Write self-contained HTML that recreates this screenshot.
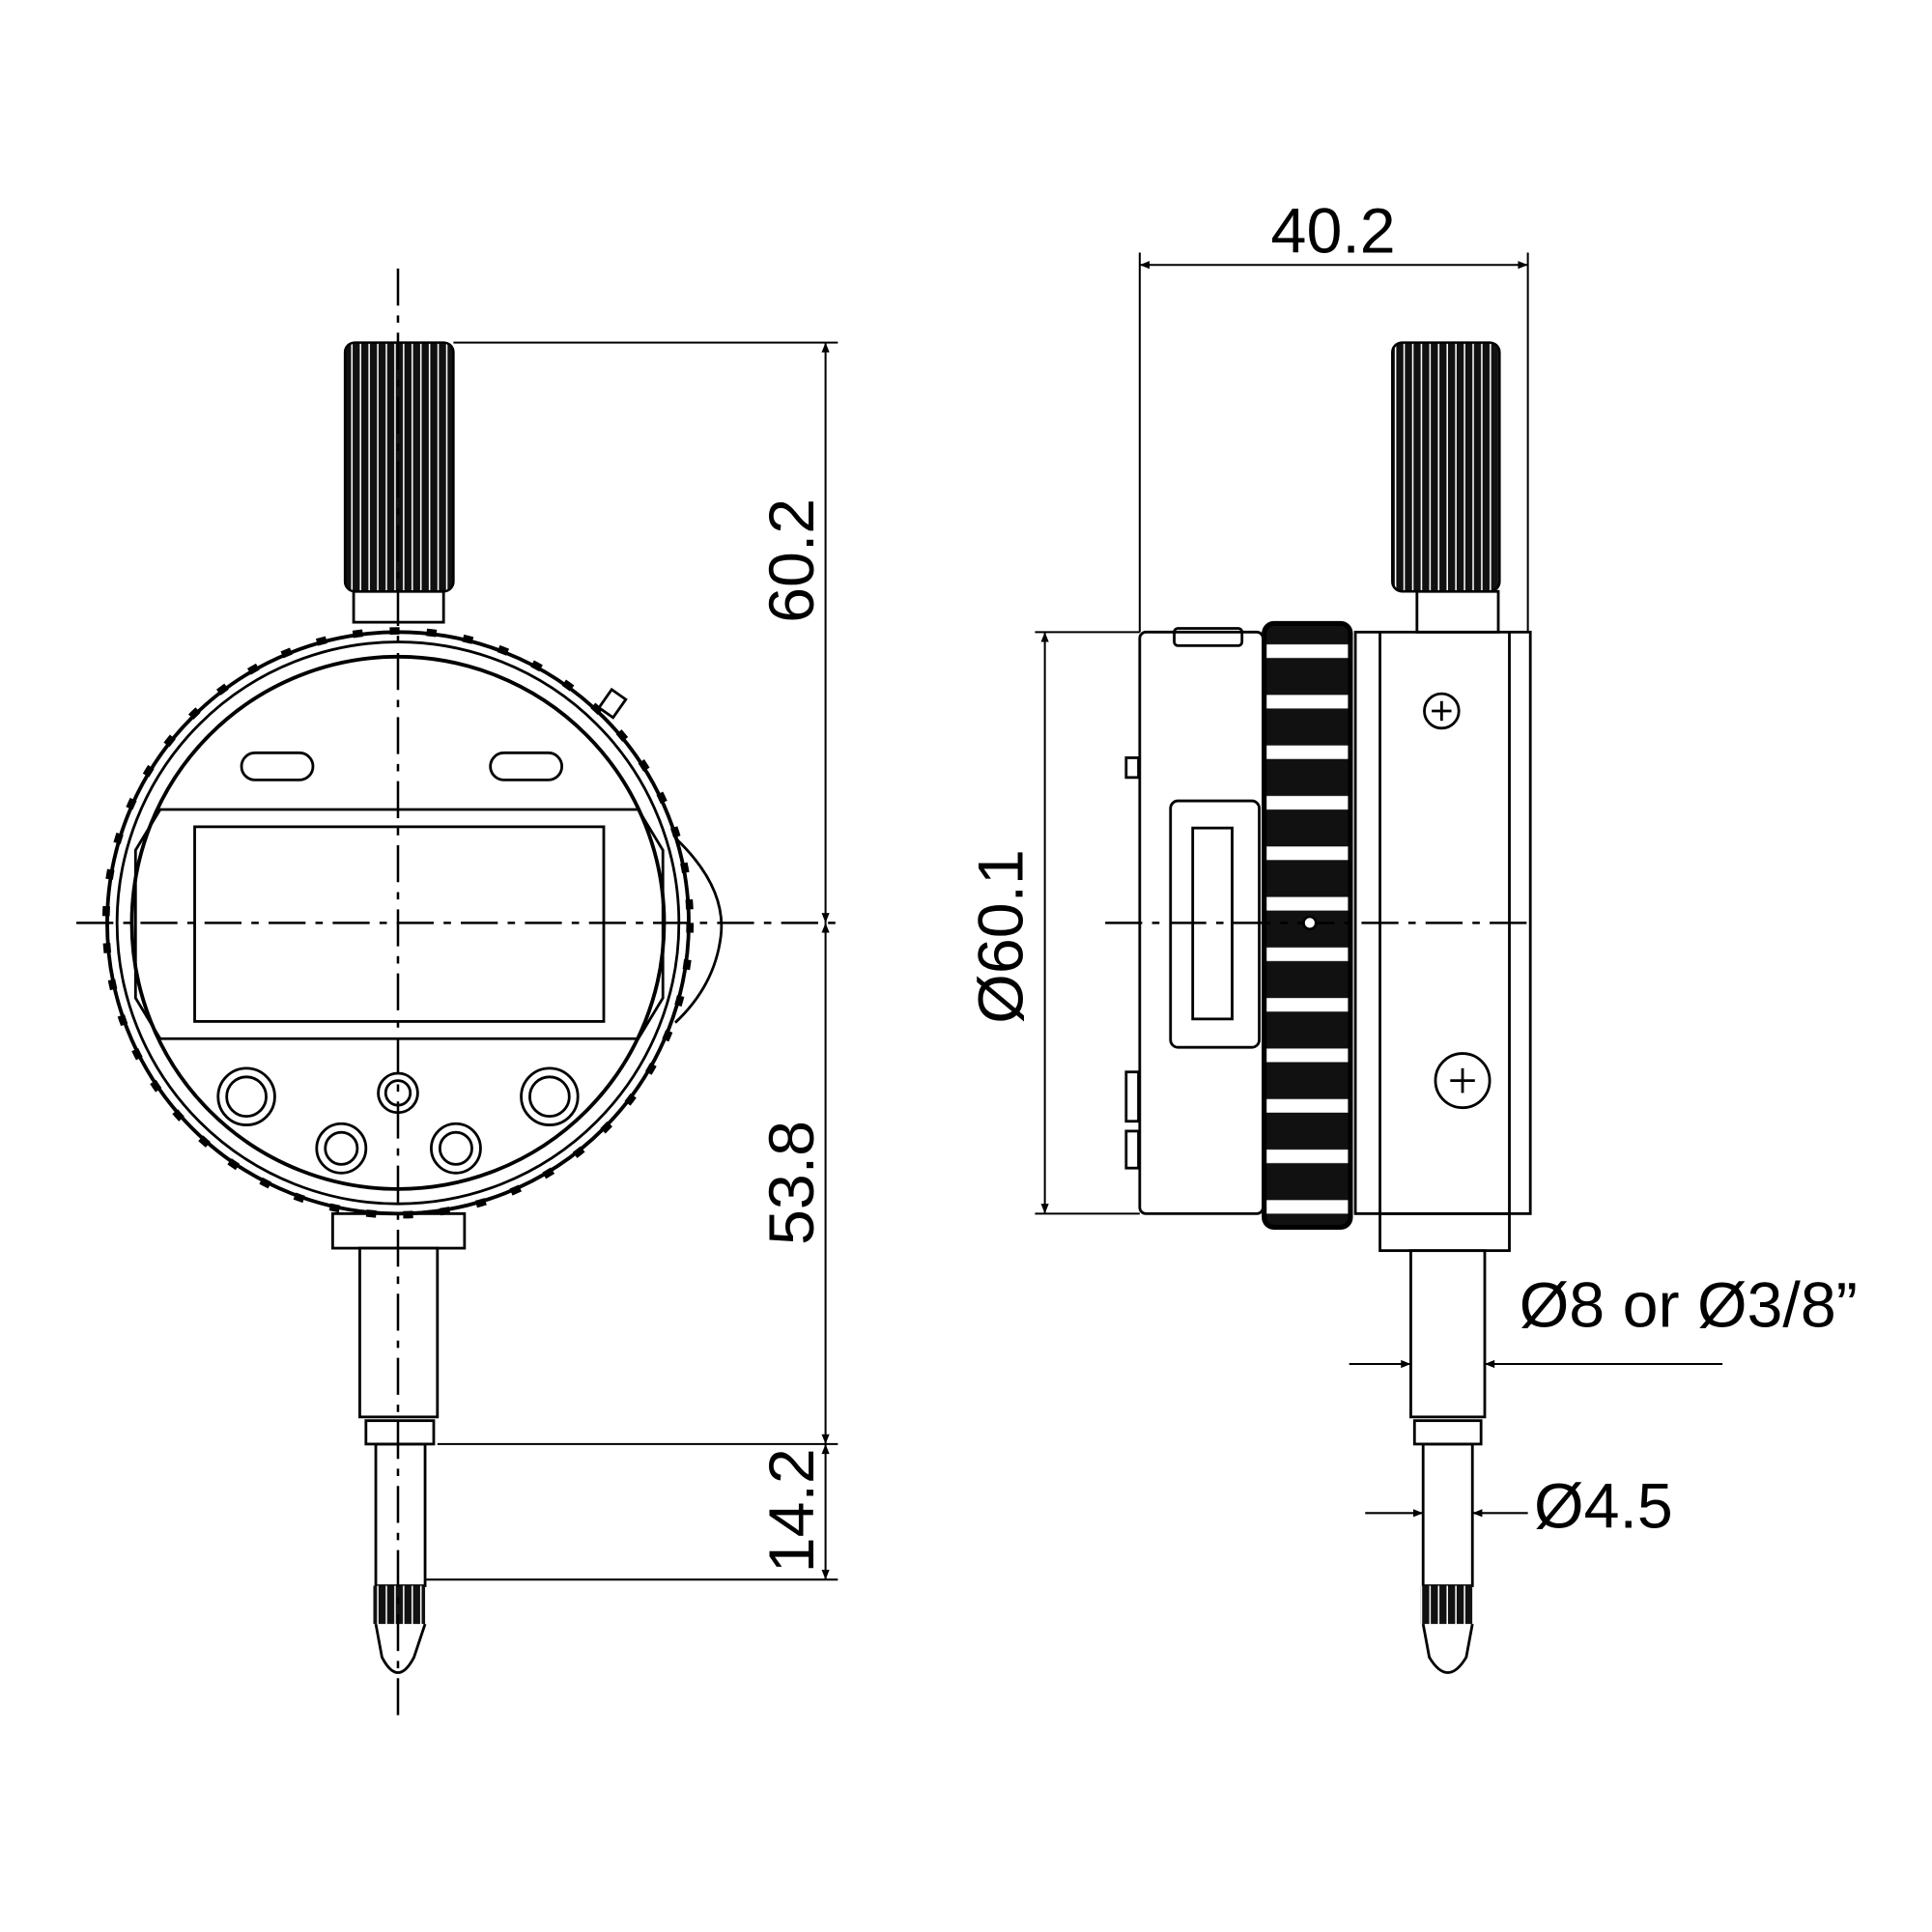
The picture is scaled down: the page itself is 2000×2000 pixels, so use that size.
<!DOCTYPE html>
<html><head><meta charset="utf-8"><style>html,body{margin:0;padding:0;background:#fff}svg{display:block}</style></head>
<body>
<svg width="2000" height="2000" viewBox="0 0 1568 1568" xmlns="http://www.w3.org/2000/svg" font-family="Liberation Sans, Arial, sans-serif">
<defs>
<marker id="a" viewBox="0 0 10 10" refX="10" refY="5" markerWidth="14" markerHeight="8" markerUnits="userSpaceOnUse" orient="auto-start-reverse"><path d="M0,1 L10,5 L0,9 z" fill="#000"/></marker>
<pattern id="kn" width="7" height="10" patternUnits="userSpaceOnUse"><rect width="7" height="10" fill="#111"/><rect x="5" width="1.2" height="10" fill="#fff"/></pattern>
<pattern id="ring" width="10" height="41" patternUnits="userSpaceOnUse" y="508"><rect width="10" height="41" fill="#111"/><rect y="15" width="10" height="11" fill="#fff"/></pattern>
</defs>
<g fill="none" stroke="#000" stroke-width="2.2">
<path d="M548,680 Q590,720 585,760 Q580,800 548,830" />
<circle cx="323" cy="749" r="236" stroke-width="3"/>
<circle cx="323" cy="749" r="228"/>
<circle cx="323" cy="749" r="216" stroke-width="3"/>
<rect x="490" y="562" width="14" height="18" transform="rotate(35 497 571)"/>
<path d="M110,690 L130,657 L518,657 L538,690 L538,810 L518,843 L130,843 L110,810 Z"/>
<rect x="158" y="671" width="332" height="158"/>
<rect x="196" y="611" width="58" height="22" rx="11"/>
<rect x="398" y="611" width="58" height="22" rx="11"/>
<circle cx="200" cy="890" r="23"/><circle cx="200" cy="890" r="16"/>
<circle cx="446" cy="890" r="23"/><circle cx="446" cy="890" r="16"/>
<circle cx="277" cy="932" r="20"/><circle cx="277" cy="932" r="13"/>
<circle cx="370" cy="932" r="20"/><circle cx="370" cy="932" r="13"/>
<circle cx="323" cy="887" r="16"/><circle cx="323" cy="887" r="10"/>
<rect x="287" y="480" width="73" height="25"/>
<rect x="270" y="985" width="107" height="28"/>
<rect x="292" y="1013" width="63" height="137"/>
<rect x="297" y="1153" width="55" height="19"/>
<rect x="305" y="1172" width="40" height="115"/>
<path d="M305,1318 L310,1345 Q323,1370 336,1345 L345,1318"/>
<rect x="925" y="513" width="100" height="472" rx="5"/>
<rect x="1100" y="513" width="142" height="472"/>
<line x1="1120" y1="513" x2="1120" y2="985"/><line x1="1225" y1="513" x2="1225" y2="985"/>
<rect x="1120" y="985" width="105" height="30"/>
<rect x="1150" y="480" width="66" height="33"/>
<rect x="950" y="650" width="72" height="200" rx="6"/>
<rect x="968" y="672" width="32" height="155"/>
<rect x="953" y="510" width="55" height="14" rx="3"/>
<rect x="914" y="615" width="10" height="16"/>
<rect x="914" y="870" width="10" height="40"/><rect x="914" y="918" width="10" height="30"/>
<circle cx="1170" cy="577" r="14"/>
<path d="M1162,577 h16 M1170,569 v16"/>
<circle cx="1187" cy="877" r="22"/>
<path d="M1177,877 h20 M1187,867 v20"/>
<rect x="1145" y="1015" width="60" height="135"/>
<rect x="1148" y="1153" width="54" height="19"/>
<rect x="1155" y="1172" width="40" height="115"/>
<path d="M1155,1318 L1160,1345 Q1175,1370 1190,1345 L1195,1318"/>
</g>
<rect x="280" y="278" width="88" height="202" rx="8" fill="url(#kn)" stroke="#000" stroke-width="2"/>
<rect x="1130" y="278" width="87" height="202" rx="8" fill="url(#kn)" stroke="#000" stroke-width="2"/>
<rect x="303" y="1287" width="42" height="31" fill="url(#kn)"/>
<rect x="1153" y="1287" width="42" height="31" fill="url(#kn)"/>
<rect x="1026" y="506" width="70" height="490" rx="8" fill="url(#ring)" stroke="#000" stroke-width="4"/>
<circle cx="323" cy="749" r="237" fill="none" stroke="#000" stroke-width="6" stroke-dasharray="8 22"/>
<g stroke="#000" stroke-width="2" stroke-dasharray="30 8 6 8">
<line x1="323" y1="218" x2="323" y2="1395"/>
<line x1="62" y1="749" x2="680" y2="749"/>
<line x1="897" y1="749" x2="1240" y2="749"/>
</g>
<circle cx="1063" cy="749" r="5" fill="#fff" stroke="#000" stroke-width="2"/>
<g stroke="#000" stroke-width="1.6" fill="none">
<line x1="368" y1="278" x2="680" y2="278"/>
<line x1="355" y1="1172" x2="680" y2="1172"/>
<line x1="345" y1="1282" x2="680" y2="1282"/>
<line x1="670" y1="278" x2="670" y2="749" marker-start="url(#a)" marker-end="url(#a)"/>
<line x1="670" y1="749" x2="670" y2="1172" marker-start="url(#a)" marker-end="url(#a)"/>
<line x1="670" y1="1172" x2="670" y2="1282" marker-start="url(#a)" marker-end="url(#a)"/>
<line x1="925" y1="205" x2="925" y2="513"/>
<line x1="1240" y1="205" x2="1240" y2="513"/>
<line x1="925" y1="215" x2="1240" y2="215" marker-start="url(#a)" marker-end="url(#a)"/>
<line x1="840" y1="513" x2="925" y2="513"/>
<line x1="840" y1="985" x2="925" y2="985"/>
<line x1="848" y1="513" x2="848" y2="985" marker-start="url(#a)" marker-end="url(#a)"/>
<line x1="1095" y1="1107" x2="1145" y2="1107" marker-end="url(#a)"/>
<line x1="1205" y1="1107" x2="1398" y2="1107" marker-start="url(#a)"/>
<line x1="1108" y1="1228" x2="1155" y2="1228" marker-end="url(#a)"/>
<line x1="1195" y1="1228" x2="1240" y2="1228" marker-start="url(#a)"/>
</g>
<g font-size="52" fill="#000">
<text x="1082" y="205" text-anchor="middle">40.2</text>
<text transform="translate(660,455) rotate(-90)" text-anchor="middle">60.2</text>
<text transform="translate(660,960) rotate(-90)" text-anchor="middle">53.8</text>
<text transform="translate(660,1226) rotate(-90)" text-anchor="middle">14.2</text>
<text transform="translate(830,760) rotate(-90)" text-anchor="middle">Ø60.1</text>
<text x="1233" y="1077">Ø8 or Ø3/8”</text>
<text x="1245" y="1240">Ø4.5</text>
</g>
</svg>
</body></html>
